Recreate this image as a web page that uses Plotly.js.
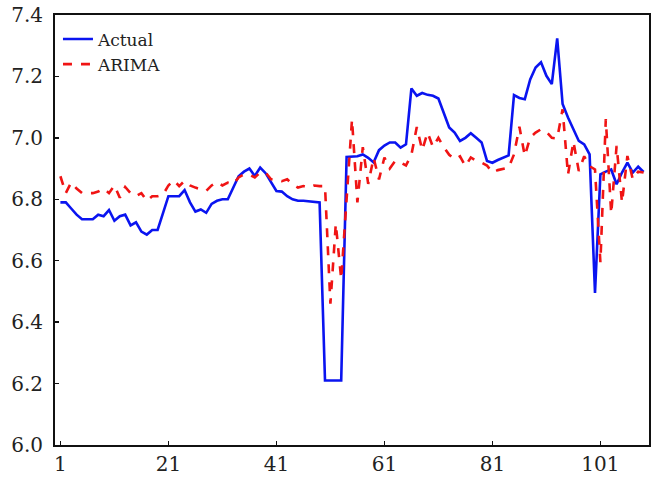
<!DOCTYPE html>
<html>
<head>
<meta charset="utf-8">
<script src="https://cdn.plot.ly/plotly-3.0.1.min.js"></script>
<style>html,body{margin:0;padding:0;background:#fff;}#chart{width:653px;height:477px;}</style>
</head>
<body>
<div id="chart"></div>
<script>
const actual = [
  6.79, 6.79, 6.77, 6.75, 6.735, 6.735, 6.735, 6.75, 6.745, 6.765,
  6.73, 6.745, 6.75, 6.715, 6.725, 6.695, 6.685, 6.70, 6.70, 6.755,
  6.81, 6.81, 6.81, 6.83, 6.79, 6.76, 6.767, 6.756, 6.785, 6.795,
  6.80, 6.80, 6.835, 6.875, 6.89, 6.90, 6.876, 6.903, 6.885, 6.855,
  6.827, 6.825, 6.81, 6.80, 6.795, 6.795, 6.793, 6.792, 6.79, 6.21,
  6.21, 6.21, 6.21, 6.938, 6.938, 6.94, 6.946, 6.935, 6.92, 6.96,
  6.975, 6.985, 6.985, 6.968, 6.979, 7.161, 7.137, 7.146, 7.14, 7.137,
  7.128, 7.083, 7.034, 7.017, 6.99, 7.0, 7.015, 7.0, 6.985, 6.925,
  6.919, 6.928, 6.935, 6.943, 7.139, 7.13, 7.126, 7.19, 7.229, 7.246,
  7.202, 7.175, 7.324, 7.11, 7.066, 7.028, 6.99, 6.979, 6.946, 6.495,
  6.881, 6.89, 6.897, 6.849, 6.887, 6.919, 6.887, 6.906, 6.889
];
const arima = [
  6.875, 6.82, 6.855, 6.835, 6.82, 6.82, 6.82, 6.825, 6.835, 6.82,
  6.845, 6.805, 6.84, 6.82, 6.81, 6.82, 6.795, 6.81, 6.81, 6.815,
  6.845, 6.862, 6.843, 6.86, 6.845, 6.838, 6.832, 6.827, 6.845, 6.856,
  6.845, 6.854, 6.849, 6.871, 6.881, 6.88, 6.871, 6.887, 6.887, 6.865,
  6.865, 6.859, 6.865, 6.849, 6.838, 6.843, 6.838, 6.845, 6.843, 6.843,
  6.46, 6.72, 6.54, 6.80, 7.06, 6.79, 6.97, 6.85, 6.935, 6.865,
  6.936, 6.90, 6.925, 6.92, 6.91, 6.945, 7.035, 6.96, 7.017, 6.97,
  7.0, 6.97, 6.945, 6.93, 6.94, 6.908, 6.936, 6.925, 6.919, 6.91,
  6.887, 6.895, 6.9, 6.903, 6.946, 7.036, 6.941, 7.001, 7.017, 7.028,
  7.02, 7.0, 6.998, 7.093, 6.88, 6.988, 6.892, 6.94, 6.908, 6.897,
  6.595, 7.061, 6.753, 6.974, 6.789, 6.941, 6.865, 6.89, 6.887
];
const xIdx = actual.map((_, i) => i + 1);
const xTicks = [1, 21, 41, 61, 81, 101];
const yTicks = [6.0, 6.2, 6.4, 6.6, 6.8, 7.0, 7.2, 7.4];

const serif = 'DejaVu Serif, Liberation Serif, serif';
const traces = [
  {x: xIdx, y: actual, name: 'Actual', type: 'scatter', mode: 'lines',
   line: {color: '#0a14f0', width: 2.6}},
  {x: xIdx, y: arima, name: 'ARIMA', type: 'scatter', mode: 'lines',
   line: {color: '#f01414', width: 2.6, dash: 'dash'}}
];
const layout = {
  width: 653, height: 477,
  margin: {l: 55, r: 4, t: 15, b: 32},
  paper_bgcolor: '#fff', plot_bgcolor: '#fff',
  showlegend: true,
  legend: {x: 0.005, y: 0.985, xanchor: 'left', yanchor: 'top',
           bgcolor: 'rgba(0,0,0,0)', font: {family: serif, size: 17, color: '#222'},
           tracegroupgap: 0, itemwidth: 30},
  xaxis: {range: [0, 110], tickvals: xTicks, ticktext: xTicks.map(String),
          ticks: 'inside', ticklen: 4, tickwidth: 1.5, tickcolor: '#111',
          showline: true, linecolor: '#111', linewidth: 2, mirror: true,
          showgrid: false, zeroline: false,
          tickfont: {family: serif, size: 20, color: '#222'}},
  yaxis: {range: [6.0, 7.4], tickvals: yTicks, ticktext: yTicks.map(v => v.toFixed(1)),
          ticks: 'inside', ticklen: 4, tickwidth: 1.5, tickcolor: '#111',
          showline: true, linecolor: '#111', linewidth: 2, mirror: true,
          showgrid: false, zeroline: false, ticklabelstandoff: 6,
          tickfont: {family: serif, size: 20, color: '#222'}}
};
Plotly.newPlot('chart', traces, layout, {staticPlot: true, displayModeBar: false});
</script>
</body>
</html>
